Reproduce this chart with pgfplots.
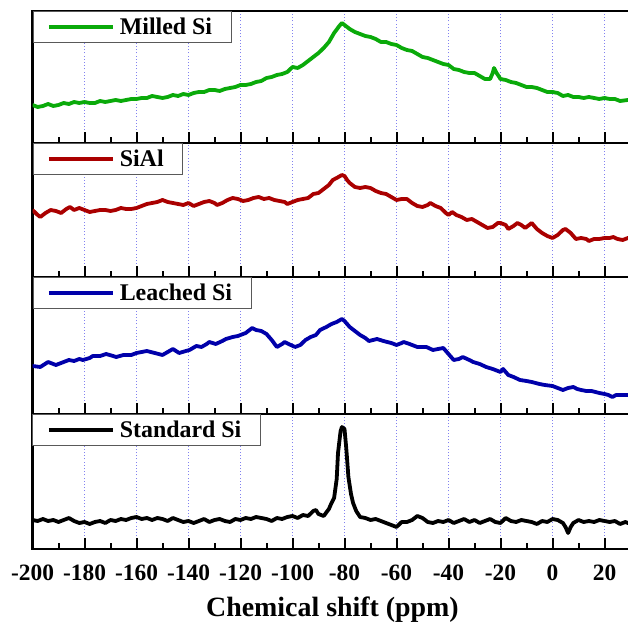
\documentclass[border=0pt]{standalone}
\usepackage{fontspec}
\setmainfont{Liberation Serif}
\usepackage{pgfplots}
\pgfplotsset{compat=1.18}
\definecolor{cgreen}{RGB}{10,170,10}
\definecolor{cred}{RGB}{170,0,0}
\definecolor{cblue}{RGB}{0,0,170}
\definecolor{cgrid}{RGB}{130,130,240}
\pgfplotsset{
 panel/.style={
   scale only axis, width=600bp,
   xmin=-200, xmax=30.769, ymin=0,
   axis line style={line width=2.4bp, black},
   ytick=\empty,
   xtick={-200,-180,...,20},
   minor xtick={-190,-170,...,30},
   xtick pos=left, tick align=inside,
   major tick length=11bp, minor tick length=6bp,
   every tick/.style={black, line width=2bp},
   xmajorgrids,
   major grid style={cgrid, line width=0.9bp, dash pattern=on 1bp off 2.2bp},
   xticklabels={},
   legend style={at={(0,1)}, anchor=north west, draw=black!65, line width=1bp, fill=white,
     inner xsep=14bp, inner ysep=3.5bp, font=\fontsize{24}{24}\selectfont\bfseries,
     nodes={inner xsep=5bp, inner ysep=3bp}},
   legend image code/.code={\draw[#1, line width=3.8bp] (0bp,0bp) -- (64bp,0bp);},
   every axis plot/.append style={line width=3.8bp, line join=round},
 }
}
\begin{document}
\begin{tikzpicture}
\useasboundingbox (0,0) rectangle (628bp,630bp);
% Panel 1
\begin{axis}[panel, at={(32.5bp,619bp)}, anchor=north west, height=132bp, ymax=132]
\addplot[cgreen] coordinates {
(-200,38) (-198,36) (-196,37) (-194,39) (-192,37) (-190,38) (-188,40) (-186,39) (-184,41) (-182,40)
(-180,41) (-178,40) (-176,40) (-174,42) (-172,41) (-170,42) (-168,43) (-166,42) (-164,43) (-162,44)
(-160,44) (-158,45) (-156,45) (-154,47) (-152,46) (-150,45) (-148,46) (-146,48) (-144,47) (-142,49)
(-140,48) (-138,50) (-136,51) (-134,51) (-132,53) (-130,53) (-128,52) (-126,54) (-124,55) (-122,56)
(-120,58) (-118,58) (-116,59) (-114,61) (-112,62) (-110,65) (-108,66) (-106,68) (-104,69) (-102,71)
(-100,76) (-98,75) (-96,78) (-94,82) (-92,86) (-90,90) (-88,95) (-86,101) (-84,110) (-82,117)
(-81,120) (-80,118) (-78,114) (-76,111) (-74,109) (-72,107) (-70,106) (-68,104) (-66,101) (-64,101)
(-62,99) (-60,98) (-58,95) (-56,93) (-54,92) (-52,89) (-50,86) (-48,85) (-46,83) (-44,81)
(-42,79) (-40,78) (-38,74) (-36,73) (-34,71) (-32,70) (-30,70) (-28,67) (-26,64) (-24,64)
(-23,70) (-22.5,75) (-21.5,70) (-20,64) (-18,63) (-16,61) (-14,60) (-12,58) (-10,56) (-8,56)
(-6,55) (-4,53) (-2,51) (0,51) (2,50) (4,47) (6,48) (8,46) (10,46) (12,45)
(14,46) (16,45) (18,44) (20,45) (22,44) (24,44) (26,42) (29,43) (31,43)};
\addlegendentry{Milled Si}
\end{axis}
% Panel 2
\begin{axis}[panel, at={(32.5bp,487bp)}, anchor=north west, height=134bp, ymax=134]
\addplot[cred] coordinates {
(-200,67) (-198,62) (-197,60) (-195,64) (-193,67) (-191,66) (-189,64) (-187,68) (-185.6,70) (-184,67)
(-182,69) (-180,67) (-178,65) (-176,66) (-174,67) (-172,67) (-170,66) (-168,67) (-166,69) (-164,68)
(-162,68) (-160,69) (-158,71) (-156,73) (-154,74) (-152,75) (-150,77) (-148,75) (-146,74) (-144,73)
(-142,72) (-140,74) (-138,71) (-136,73) (-134,75) (-132,76) (-130,74) (-129,72) (-127,74) (-125,77)
(-123,79) (-121,78) (-119,76) (-117,77) (-115,79) (-113,80) (-111,78) (-109,79) (-107,77) (-105,76)
(-103,75) (-102,73) (-100,75) (-98,77) (-96,78) (-94,79) (-92,83) (-90,84) (-88,88) (-86,92)
(-84.5,97) (-83,99) (-81,102) (-80,101) (-79,97) (-78,94) (-76,90) (-74,89) (-72,90) (-70,89)
(-68,86) (-66,84) (-64,83) (-62,80) (-60,77) (-58,78) (-56,78) (-54,74) (-52,71) (-50,70)
(-48,72) (-47,74) (-45,71) (-43,69) (-41,64) (-40,62) (-38.6,65) (-37,62) (-35,60) (-33,57)
(-31,58) (-29,55) (-27,52) (-25,49) (-23,50) (-21,54) (-20,54) (-18,52) (-17,48) (-15,51)
(-13.5,54) (-12,52) (-10.5,49) (-8,54) (-6,48) (-4,44) (-2,41) (0,39) (2,42) (4,47)
(5,48) (7,44) (9,38) (11,39) (13,38) (14,36) (16,38) (18,38) (20,39) (22,39)
(23.4,40) (25,38) (27,37) (29,39) (31,39)};
\addlegendentry{SiAl}
\end{axis}
% Panel 3
\begin{axis}[panel, at={(32.5bp,353bp)}, anchor=north west, height=137bp, ymax=137]
\addplot[cblue] coordinates {
(-200,48) (-197,47) (-194,52) (-192,50) (-191,49) (-188,52) (-186,54) (-184,53) (-182,55) (-180.6,54)
(-178,56) (-176.8,58) (-174,58) (-171.7,60) (-169,58) (-167.8,57) (-165,59) (-162,59) (-160,61) (-158,62)
(-156,63) (-153,61) (-150,59) (-148,62) (-146,65) (-143.6,61) (-141,63) (-139.6,64) (-137,68) (-135,67)
(-133,70) (-132,72) (-129.5,70) (-127,73) (-125.6,75) (-123,77) (-121,78) (-120,79) (-118,81) (-116.5,84)
(-115.5,86) (-114,84) (-112,83) (-110,80) (-108,74) (-106,67) (-104,70) (-103,72) (-101.5,70) (-99,67)
(-97,69) (-95,74) (-93,77) (-91,79) (-89.4,84) (-87,87) (-85,90) (-83,92) (-81,95) (-80,93)
(-78,87) (-76,83) (-74,79) (-72,76) (-70.6,73) (-69,74) (-67.5,75) (-65,73) (-63.6,72) (-62,71)
(-60,69) (-58,71) (-57.3,72) (-55,70) (-52,67) (-50,67) (-48.5,67) (-46,64) (-44,65) (-42,66)
(-40,60) (-38,54) (-36,55) (-34.5,57) (-32,54) (-30.5,52) (-28,50) (-25.5,47) (-23,45) (-21,43)
(-20,42) (-19,45) (-17,39) (-15,37) (-12.5,34) (-10,33) (-8,32) (-5,30) (-3,29) (0,28)
(2,26) (4,24) (6,26) (8,27) (9.5,25) (11,24) (13,23) (15,23) (16.5,22) (18,21)
(20,20) (21.5,19) (23,17) (24.5,19) (26,19) (28,19) (29,19) (31,19)};
\addlegendentry{Leached Si}
\end{axis}
% Panel 4
\begin{axis}[panel, at={(32.5bp,216bp)}, anchor=north west, height=135bp, ymax=135,
  xticklabels={-200,-180,-160,-140,-120,-100,-80,-60,-40,-20,0,20},
  xticklabel style={font=\fontsize{23.5}{24}\selectfont\bfseries, yshift=-12bp},
  xlabel={Chemical shift (ppm)},
  x label style={font=\fontsize{28}{28}\selectfont\bfseries, at={(axis description cs:0.5,0)}, anchor=center, yshift=-61bp}]
\addplot[black] coordinates {
(-200,29) (-198,28) (-196,30) (-194,28) (-192,29) (-190,27) (-188,29) (-186,31) (-184,28) (-182,26)
(-180,27) (-178,25) (-176,27) (-174,28) (-172,26) (-170,29) (-168,28) (-166,30) (-164,29) (-162,31)
(-160,32) (-158,30) (-156,31) (-154,29) (-152,31) (-150,30) (-148,28) (-146,31) (-144,29) (-142,27)
(-140,28) (-138,26) (-136,28) (-134,30) (-132,27) (-130,29) (-128,30) (-126,28) (-124,27) (-122,30)
(-120,29) (-118,31) (-116,30) (-114,32) (-112,31) (-110,30) (-108,28) (-106,31) (-104,30) (-102,32)
(-100,33) (-98,31) (-96,34) (-94,33) (-92,38) (-91,39) (-90,35) (-88,33) (-86,40) (-85,46)
(-84,51) (-83,70) (-82.5,96) (-81.5,118) (-81,122) (-80,120) (-79.3,100) (-78.5,72) (-77.5,55) (-76.7,46)
(-75.5,38) (-74,32) (-72,31) (-70,29) (-68,30) (-66,28) (-64,26) (-62,24) (-60,22) (-58,27)
(-56,27) (-54,29) (-52,33) (-50,31) (-48,27) (-46,26) (-44,28) (-42,27) (-40,29) (-38,26)
(-36,28) (-34,30) (-32,27) (-30,29) (-28,26) (-26,28) (-24,30) (-22,27) (-20,26) (-18,31)
(-16,28) (-14,27) (-12,29) (-10,28) (-8,27) (-6,25) (-4,28) (-2,27) (0,30) (2,29)
(4,26) (5,22) (6,16) (7,22) (8,26) (10,29) (12,27) (14,28) (16,27) (18,29)
(20,28) (22,27) (24,28) (26,25) (28,27) (29,26) (31,27)};
\addlegendentry{Standard Si}
\end{axis}
\end{tikzpicture}
\end{document}
